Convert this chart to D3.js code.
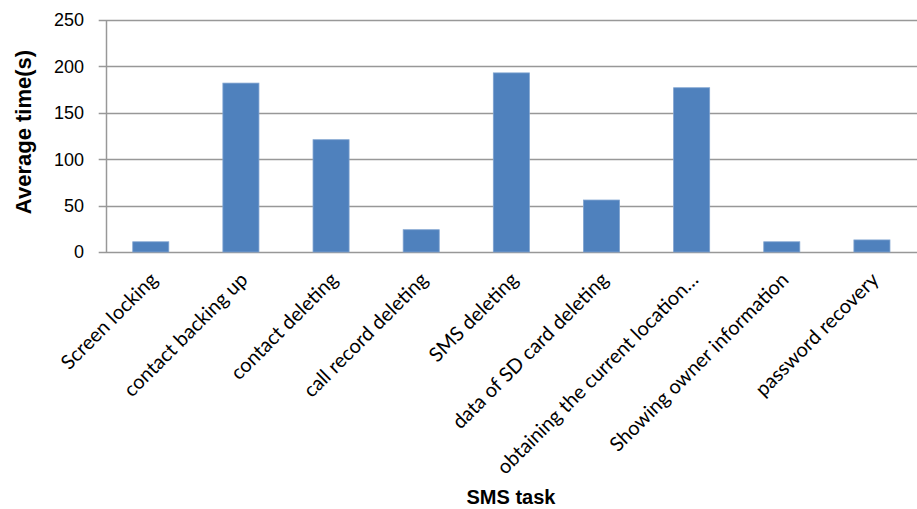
<!DOCTYPE html>
<html>
<head>
<meta charset="utf-8">
<script src="https://cdn.jsdelivr.net/npm/d3@7"></script>
<style>
  html, body { margin: 0; padding: 0; background: #fff; }
  svg { display: block; }
</style>
</head>
<body>
<svg id="chart" width="917" height="509"></svg>
<script>
// Average completion time per SMS-triggered task
const categories = [
  "Screen locking",
  "contact backing up",
  "contact deleting",
  "call record deleting",
  "SMS deleting",
  "data of SD card deleting",
  "obtaining the current location…",
  "Showing owner information",
  "password recovery"
];
const avgTime = [11, 182, 121, 24, 193, 56, 177, 11, 13];
const yTicks = [0, 50, 100, 150, 200, 250];
const yTitle = "Average time(s)";
const xTitle = "SMS task";

const width = 917, height = 509;
const plot = { left: 105.7, right: 917, top: 20, bottom: 252 };

const svg = d3.select("#chart");

const x = d3.scaleBand()
  .domain(categories)
  .range([plot.left, plot.right])
  .paddingInner(0.6)
  .paddingOuter(0.3);

const y = d3.scaleLinear()
  .domain([0, 250])
  .range([plot.bottom, plot.top]);

// horizontal gridlines (with the outward tick stubs on the left)
svg.append("g")
  .selectAll("line")
  .data(yTicks)
  .join("line")
  .attr("x1", plot.left - 7)
  .attr("x2", plot.right)
  .attr("y1", d => Math.round(y(d)) + 0.5)
  .attr("y2", d => Math.round(y(d)) + 0.5)
  .attr("stroke", "#989898")
  .attr("stroke-width", 1.5);

// vertical axis line
svg.append("line")
  .attr("x1", Math.round(plot.left) + 0.5)
  .attr("x2", Math.round(plot.left) + 0.5)
  .attr("y1", plot.top)
  .attr("y2", plot.bottom)
  .attr("stroke", "#989898")
  .attr("stroke-width", 1.5);

// y tick labels
svg.append("g")
  .selectAll("text")
  .data(yTicks)
  .join("text")
  .attr("x", 84)
  .attr("y", d => y(d))
  .attr("dy", "0.35em")
  .attr("text-anchor", "end")
  .attr("font-family", "Liberation Sans, Arial, sans-serif")
  .attr("font-size", 18)
  .attr("fill", "#000")
  .text(d => d);

// bars
svg.append("g")
  .selectAll("rect")
  .data(categories.map((c, i) => ({ c, v: avgTime[i] })))
  .join("rect")
  .attr("x", d => x(d.c))
  .attr("y", d => y(d.v))
  .attr("width", x.bandwidth())
  .attr("height", d => y(0) - y(d.v))
  .attr("fill", "#4F81BD")
  .attr("stroke", "#7FA3D0")
  .attr("stroke-width", 0.8);

// category labels, rotated 45°
svg.append("g")
  .selectAll("text")
  .data(categories)
  .join("text")
  .attr("transform", d => `translate(${x(d) + x.bandwidth() / 2 + 8},${plot.bottom + 29}) rotate(-45)`)
  .attr("text-anchor", "end")
  .attr("font-family", "Lato, 'Open Sans', sans-serif")
  .attr("font-size", 20)
  .attr("fill", "#000")
  .text(d => d);

// axis titles
svg.append("text")
  .attr("transform", `translate(31,${(plot.top + plot.bottom) / 2 - 4}) rotate(-90)`)
  .attr("text-anchor", "middle")
  .attr("font-family", "Liberation Sans, Arial, sans-serif")
  .attr("font-weight", "bold")
  .attr("font-size", 22)
  .text(yTitle);

svg.append("text")
  .attr("x", 511)
  .attr("y", 504)
  .attr("text-anchor", "middle")
  .attr("font-family", "Liberation Sans, Arial, sans-serif")
  .attr("font-weight", "bold")
  .attr("font-size", 20)
  .text(xTitle);
</script>
</body>
</html>
